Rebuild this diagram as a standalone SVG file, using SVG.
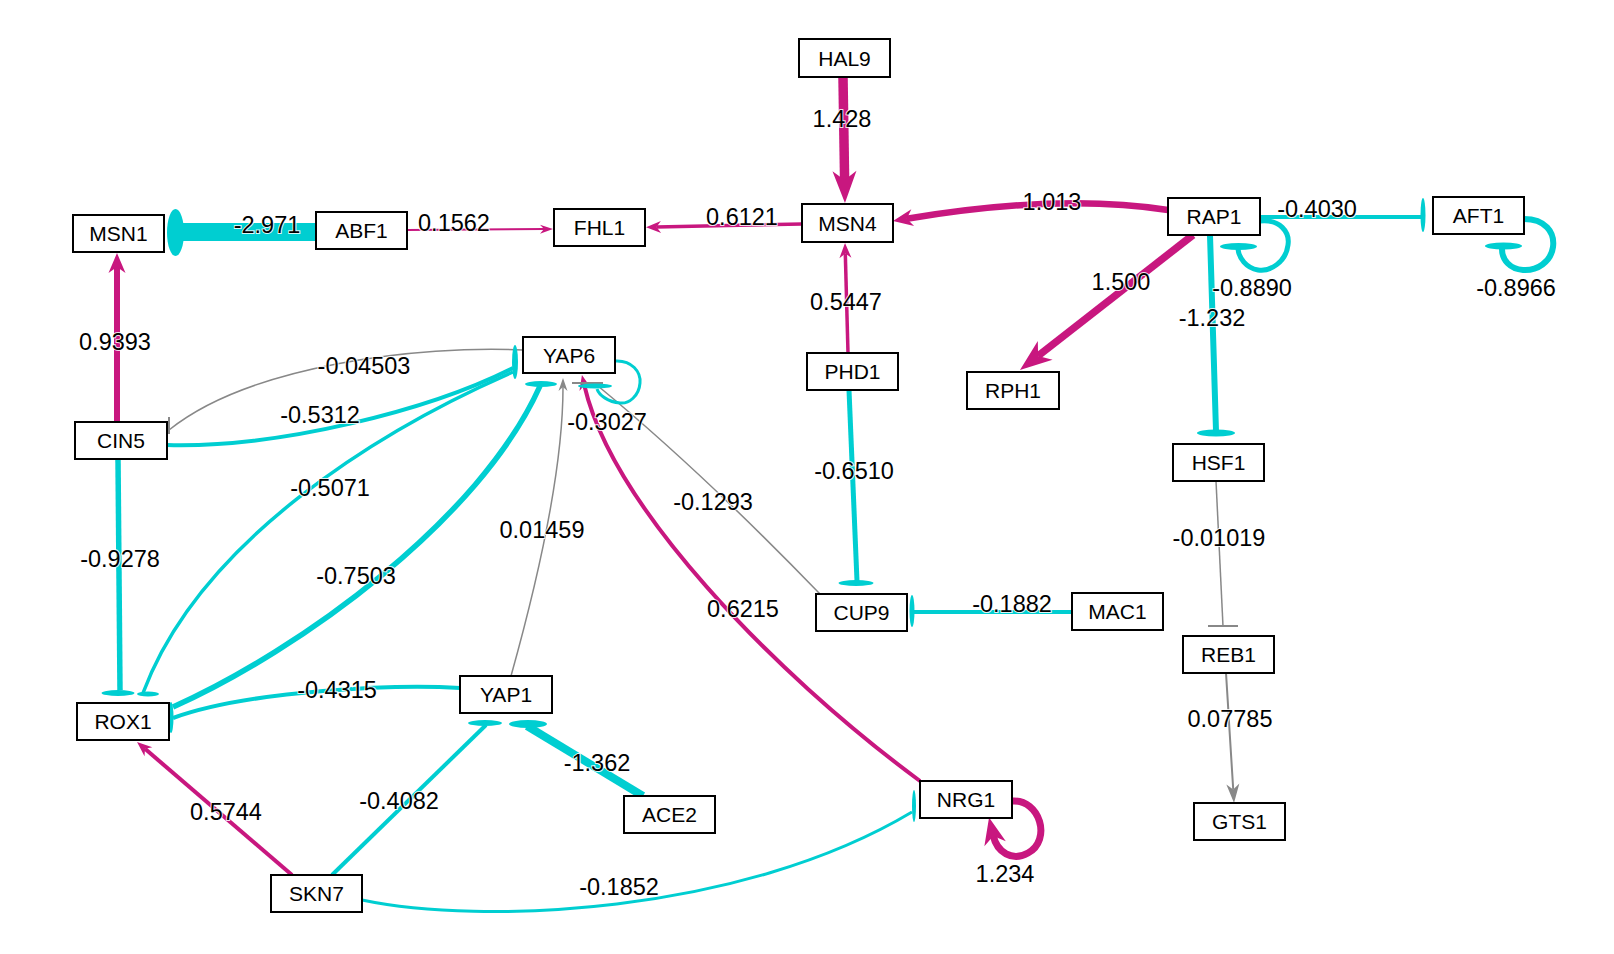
<svg xmlns="http://www.w3.org/2000/svg" width="1614" height="954" viewBox="0 0 1614 954">
<style>
.node rect{fill:#fff;stroke:#000;stroke-width:2}
.node text{font-family:"Liberation Sans",Arial,Helvetica,sans-serif;font-size:21px;text-anchor:middle;fill:#000}
.e{fill:none}
.m{stroke:#C8177F}
.c{stroke:#00CED1}
.g{stroke:#888}
.bc{fill:#00CED1}
.bg{fill:#888}
.lbl{font-family:"Liberation Sans",Arial,Helvetica,sans-serif;font-size:23.5px;text-anchor:middle;fill:#000;stroke:#fff;stroke-width:2;stroke-opacity:0.85;paint-order:stroke}
</style>
<defs>
<marker id="aL" markerUnits="userSpaceOnUse" orient="auto" viewBox="0 -15 40 30" markerWidth="40" markerHeight="30" refX="9" refY="0" overflow="visible"><path d="M0,-12 L32,0 L0,12 L9,0 Z" fill="#C8177F"/></marker>
<marker id="aLoop" markerUnits="userSpaceOnUse" orient="auto" viewBox="0 -12 30 24" markerWidth="30" markerHeight="24" refX="8" refY="0" overflow="visible"><path d="M0,-11 L27,0 L0,11 L8,0 Z" fill="#C8177F"/></marker>
<marker id="aM" markerUnits="userSpaceOnUse" orient="auto" viewBox="0 -10 22 20" markerWidth="22" markerHeight="20" refX="6" refY="0" overflow="visible"><path d="M0,-8.5 L20,0 L0,8.5 L6,0 Z" fill="#C8177F"/></marker>
<marker id="aS" markerUnits="userSpaceOnUse" orient="auto" viewBox="0 -7 16 14" markerWidth="16" markerHeight="14" refX="4.5" refY="0" overflow="visible"><path d="M0,-6 L15,0 L0,6 L4.5,0 Z" fill="#C8177F"/></marker>
<marker id="aXS" markerUnits="userSpaceOnUse" orient="auto" viewBox="0 -5 14 10" markerWidth="14" markerHeight="10" refX="4" refY="0" overflow="visible"><path d="M0,-4.5 L13,0 L0,4.5 L4,0 Z" fill="#C8177F"/></marker>
<marker id="gS" markerUnits="userSpaceOnUse" orient="auto" viewBox="0 -5 14 10" markerWidth="14" markerHeight="10" refX="4" refY="0" overflow="visible"><path d="M0,-4.5 L13,0 L0,4.5 L4,0 Z" fill="#888"/></marker>
<marker id="gM" markerUnits="userSpaceOnUse" orient="auto" viewBox="0 -7 20 14" markerWidth="20" markerHeight="14" refX="5.5" refY="0" overflow="visible"><path d="M0,-6.5 L19,0 L0,6.5 L5.5,0 Z" fill="#888"/></marker>
</defs>
<rect x="0" y="0" width="1614" height="954" fill="#fff"/>
<g id="connectors">
<!-- activations (magenta) -->
<path class="e m" stroke-width="9.5" d="M843,77 L844.6,180" marker-end="url(#aL)"/>
<path class="e m" stroke-width="6.5" d="M1168,210 Q1060,193 906.8,218.7" marker-end="url(#aM)"/>
<path class="e m" stroke-width="3.5" d="M802,224 L656.5,227" marker-end="url(#aS)"/>
<path class="e m" stroke-width="2" d="M407,230 L544,229.1" marker-end="url(#aXS)"/>
<path class="e m" stroke-width="6" d="M117,422 L117,267" marker-end="url(#aM)"/>
<path class="e m" stroke-width="7.5" d="M1193,235 L1038.1,355.9" marker-end="url(#aL)"/>
<path class="e m" stroke-width="3.5" d="M848,353 L845.3,253.5" marker-end="url(#aS)"/>
<path class="e m" stroke-width="4" d="M920,781 C770,670 612,505 584.3,385.2" marker-end="url(#aS)"/>
<path class="e m" stroke-width="4" d="M292,875 L145,748.8" marker-end="url(#aS)"/>
<path class="e m" stroke-width="7" d="M1012,801 C1040,799 1052,840 1028,853 C1012,862 997,852 993.3,835.9" marker-end="url(#aLoop)"/>
<!-- gray -->
<path class="e g" stroke-width="1.5" d="M511,676 Q563,490 563,387" marker-end="url(#gS)"/>
<path class="e g" stroke-width="2" d="M1226,673 L1233.2,789.5" marker-end="url(#gM)"/>
<path class="e g" stroke-width="1.5" d="M1216,481 L1223,626"/>
<rect class="bg" x="1208" y="625" width="30" height="2"/>
<path class="e g" stroke-width="1.5" d="M523,350 C420,345 250,365 169,430"/>
<rect class="bg" x="168" y="417" width="2" height="17"/>
<path class="e g" stroke-width="1.5" d="M820,594 Q700,470 598,386"/>
<rect class="bg" x="572" y="382" width="31" height="2"/>
<!-- inhibitions (cyan) -->
<path class="e c" stroke-width="18" d="M316,232 L176,232"/>
<ellipse class="bc" cx="175.5" cy="232.5" rx="8.5" ry="23.5"/>
<path class="e c" stroke-width="4" d="M1260,217 L1423,217"/>
<ellipse class="bc" cx="1423" cy="215" rx="2.5" ry="17"/>
<path class="e c" stroke-width="5" d="M1260,221 C1280,219 1290,232 1288,245 C1286,262 1270,272 1258,270 C1246,268 1239,258 1238,249"/>
<ellipse class="bc" cx="1238.5" cy="246.5" rx="18.5" ry="3.5"/>
<path class="e c" stroke-width="6" d="M1524,219 C1545,219 1555,232 1553,247 C1551,262 1537,271 1523,270 C1510,269 1502,260 1502,249"/>
<ellipse class="bc" cx="1503.5" cy="246" rx="18.5" ry="3.5"/>
<path class="e c" stroke-width="6" d="M1210,235 L1216,431"/>
<ellipse class="bc" cx="1216" cy="433" rx="19" ry="3.5"/>
<path class="e c" stroke-width="5" d="M849,390 L857,581"/>
<ellipse class="bc" cx="856" cy="583" rx="17.5" ry="3"/>
<path class="e c" stroke-width="4" d="M1072,612 L912,612"/>
<ellipse class="bc" cx="912" cy="611" rx="2.5" ry="16"/>
<path class="e c" stroke-width="3" d="M615,361 C632,360 641,372 640,383 C639,396 629,404 620,403 C608,402 599,395 597,389"/>
<ellipse class="bc" cx="595" cy="386" rx="17" ry="2.5"/>
<path class="e c" stroke-width="4" d="M167,445 C280,448 430,410 513,368"/>
<ellipse class="bc" cx="515" cy="362" rx="3" ry="17"/>
<path class="e c" stroke-width="3.5" d="M513,372 C380,430 200,540 143,693"/>
<ellipse class="bc" cx="148" cy="694" rx="11" ry="2.5"/>
<path class="e c" stroke-width="5.5" d="M173,707 C300,650 480,520 540,386"/>
<ellipse class="bc" cx="541" cy="384" rx="16" ry="3"/>
<path class="e c" stroke-width="5.5" d="M118,459 L120,690"/>
<ellipse class="bc" cx="118" cy="693" rx="16.5" ry="3"/>
<path class="e c" stroke-width="4" d="M460,688 C400,684 250,690 173,718"/>
<ellipse class="bc" cx="171" cy="717.5" rx="2.5" ry="15.5"/>
<path class="e c" stroke-width="4" d="M332,875 L486,725"/>
<ellipse class="bc" cx="485" cy="723" rx="17" ry="3"/>
<path class="e c" stroke-width="8" d="M643,796 L527,726"/>
<ellipse class="bc" cx="528" cy="724" rx="19" ry="4"/>
<path class="e c" stroke-width="3" d="M362,900 C480,925 740,915 912,812"/>
<ellipse class="bc" cx="914" cy="806" rx="2" ry="16"/>
</g>
<g id="nodes">
<g id="HAL9" class="node"><rect x="799" y="39" width="91" height="38"/><text x="844.5" y="65.5">HAL9</text></g>
<g id="MSN4" class="node"><rect x="802" y="204" width="91" height="38"/><text x="847.5" y="230.5">MSN4</text></g>
<g id="MSN1" class="node"><rect x="73" y="215" width="91" height="37"/><text x="118.5" y="241">MSN1</text></g>
<g id="ABF1" class="node"><rect x="316" y="212" width="91" height="37"/><text x="361.5" y="238">ABF1</text></g>
<g id="FHL1" class="node"><rect x="554" y="209" width="91" height="37"/><text x="599.5" y="235">FHL1</text></g>
<g id="RAP1" class="node"><rect x="1168" y="198" width="92" height="37"/><text x="1214" y="224">RAP1</text></g>
<g id="AFT1" class="node"><rect x="1433" y="197" width="91" height="37"/><text x="1478.5" y="223">AFT1</text></g>
<g id="RPH1" class="node"><rect x="967" y="372" width="92" height="37"/><text x="1013" y="398">RPH1</text></g>
<g id="PHD1" class="node"><rect x="807" y="353" width="91" height="37"/><text x="852.5" y="379">PHD1</text></g>
<g id="YAP6" class="node"><rect x="523" y="337" width="92" height="36"/><text x="569" y="362.5">YAP6</text></g>
<g id="CIN5" class="node"><rect x="75" y="422" width="92" height="37"/><text x="121" y="448">CIN5</text></g>
<g id="HSF1" class="node"><rect x="1173" y="444" width="91" height="37"/><text x="1218.5" y="470">HSF1</text></g>
<g id="CUP9" class="node"><rect x="816" y="594" width="91" height="37"/><text x="861.5" y="620">CUP9</text></g>
<g id="MAC1" class="node"><rect x="1072" y="593" width="91" height="37"/><text x="1117.5" y="619">MAC1</text></g>
<g id="REB1" class="node"><rect x="1183" y="636" width="91" height="37"/><text x="1228.5" y="662">REB1</text></g>
<g id="GTS1" class="node"><rect x="1194" y="803" width="91" height="37"/><text x="1239.5" y="829">GTS1</text></g>
<g id="ROX1" class="node"><rect x="77" y="703" width="92" height="37"/><text x="123" y="729">ROX1</text></g>
<g id="YAP1" class="node"><rect x="460" y="676" width="92" height="37"/><text x="506" y="702">YAP1</text></g>
<g id="ACE2" class="node"><rect x="624" y="796" width="91" height="37"/><text x="669.5" y="822">ACE2</text></g>
<g id="SKN7" class="node"><rect x="271" y="875" width="91" height="37"/><text x="316.5" y="901">SKN7</text></g>
<g id="NRG1" class="node"><rect x="920" y="781" width="92" height="37"/><text x="966" y="807">NRG1</text></g>
</g>
<g id="edge-labels">
<text class="lbl" x="842" y="126.5">1.428</text>
<text class="lbl" x="1052" y="209.5">1.013</text>
<text class="lbl" x="742" y="224.5">0.6121</text>
<text class="lbl" x="454" y="230.5">0.1562</text>
<text class="lbl" x="267" y="232.5">-2.971</text>
<text class="lbl" x="115" y="349.5">0.9393</text>
<text class="lbl" x="846" y="309.5">0.5447</text>
<text class="lbl" x="1121" y="289.5">1.500</text>
<text class="lbl" x="1317" y="216.5">-0.4030</text>
<text class="lbl" x="1252" y="295.5">-0.8890</text>
<text class="lbl" x="1516" y="295.5">-0.8966</text>
<text class="lbl" x="1212" y="325.5">-1.232</text>
<text class="lbl" x="364" y="373.5">-0.04503</text>
<text class="lbl" x="320" y="422.5">-0.5312</text>
<text class="lbl" x="607" y="429.5">-0.3027</text>
<text class="lbl" x="330" y="495.5">-0.5071</text>
<text class="lbl" x="854" y="478.5">-0.6510</text>
<text class="lbl" x="713" y="509.5">-0.1293</text>
<text class="lbl" x="542" y="537.5">0.01459</text>
<text class="lbl" x="1219" y="545.5">-0.01019</text>
<text class="lbl" x="120" y="566.5">-0.9278</text>
<text class="lbl" x="356" y="583.5">-0.7503</text>
<text class="lbl" x="1012" y="611.5">-0.1882</text>
<text class="lbl" x="743" y="616.5">0.6215</text>
<text class="lbl" x="337" y="697.5">-0.4315</text>
<text class="lbl" x="1230" y="726.5">0.07785</text>
<text class="lbl" x="597" y="770.5">-1.362</text>
<text class="lbl" x="399" y="808.5">-0.4082</text>
<text class="lbl" x="226" y="819.5">0.5744</text>
<text class="lbl" x="1005" y="881.5">1.234</text>
<text class="lbl" x="619" y="894.5">-0.1852</text>
</g>
</svg>
